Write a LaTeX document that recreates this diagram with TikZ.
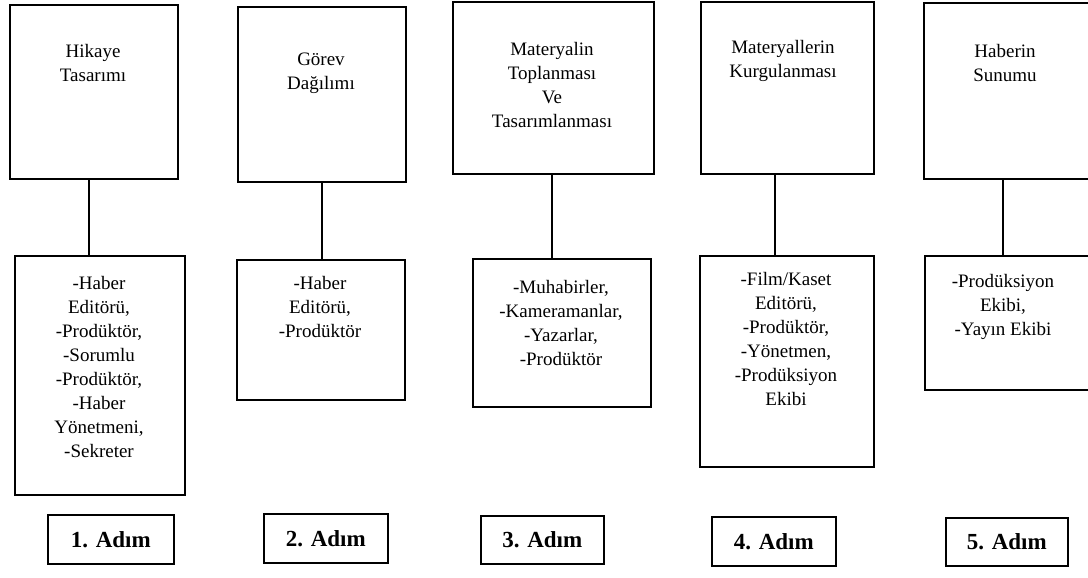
\documentclass[tikz,border=0pt]{standalone}
\usepackage{fontspec}
\setmainfont{Liberation Serif}
\begin{document}
\begin{tikzpicture}[x=1pt,y=-1pt,
  frame/.style={draw=black, line width=1.7pt, inner sep=0pt, anchor=north west},
  lbl/.style={align=center, inner sep=0pt, anchor=north, font=\fontsize{19}{24}\selectfont},
  steplbl/.style={font=\fontsize{23}{27}\selectfont\bfseries},
  link/.style={line width=1.7pt}]
\clip (0,0) rectangle (1088,578);
\fill[white] (0,0) rectangle (1088,578);

% x positions of the vertical links
\coordinate (k1) at (89,0);
\coordinate (k2) at (322,0);
\coordinate (k3) at (552,0);
\coordinate (k4) at (775,0);
\coordinate (k5) at (1003,0);

% step 1
\node[frame, minimum width=168, minimum height=174] (t1) at (9,4) {};
\node[frame, minimum width=170, minimum height=239] (b1) at (14,255) {};
\node[frame, steplbl, minimum width=126, minimum height=49] (s1) at (47,514) {1. Adım};
\node[lbl] (t1l) at (93,44.5) {Hikaye\\Tasarımı};
\node[lbl] (b1l) at (99,276.5) {-Haber\\Editörü,\\-Prodüktör,\\-Sorumlu\\-Prodüktör,\\-Haber\\Yönetmeni,\\-Sekreter};

% step 2
\node[frame, minimum width=168, minimum height=175] (t2) at (237,6) {};
\node[frame, minimum width=168, minimum height=140] (b2) at (236,259) {};
\node[frame, steplbl, minimum width=124, minimum height=49] (s2) at (263,513) {2. Adım};
\node[lbl] (t2l) at (321,52.5) {Görev\\Dağılımı};
\node[lbl] (b2l) at (320,276.5) {-Haber\\Editörü,\\-Prodüktör};

% step 3
\node[frame, minimum width=201, minimum height=172] (t3) at (452,1) {};
\node[frame, minimum width=178, minimum height=148] (b3) at (472,258) {};
\node[frame, steplbl, minimum width=123, minimum height=48] (s3) at (480,515) {3. Adım};
\node[lbl] (t3l) at (552,42.5) {Materyalin\\Toplanması\\Ve\\Tasarımlanması};
\node[lbl] (b3l) at (561,280.5) {-Muhabirler,\\-Kameramanlar,\\-Yazarlar,\\-Prodüktör};

% step 4
\node[frame, minimum width=173, minimum height=172] (t4) at (700,1) {};
\node[frame, minimum width=174, minimum height=211] (b4) at (699,255) {};
\node[frame, steplbl, minimum width=124, minimum height=49] (s4) at (711,516) {4. Adım};
\node[lbl] (t4l) at (783,40.5) {Materyallerin\\Kurgulanması};
\node[lbl] (b4l) at (786,272.5) {-Film/Kaset\\Editörü,\\-Prodüktör,\\-Yönetmen,\\-Prodüksiyon\\Ekibi};

% step 5
\node[frame, minimum width=175, minimum height=176] (t5) at (923,2) {};
\node[frame, minimum width=175, minimum height=134] (b5) at (924,255) {};
\node[frame, steplbl, minimum width=122, minimum height=48] (s5) at (945,517) {5. Adım};
\node[lbl] (t5l) at (1005,44.5) {Haberin\\Sunumu};
\node[lbl] (b5l) at (1003,274.5) {-Prodüksiyon\\Ekibi,\\-Yayın Ekibi};

% links between task and staff boxes
\draw[link] (t1.south -| k1) -- (b1.north -| k1);
\draw[link] (t2.south -| k2) -- (b2.north -| k2);
\draw[link] (t3.south -| k3) -- (b3.north -| k3);
\draw[link] (t4.south -| k4) -- (b4.north -| k4);
\draw[link] (t5.south -| k5) -- (b5.north -| k5);
\end{tikzpicture}
\end{document}
